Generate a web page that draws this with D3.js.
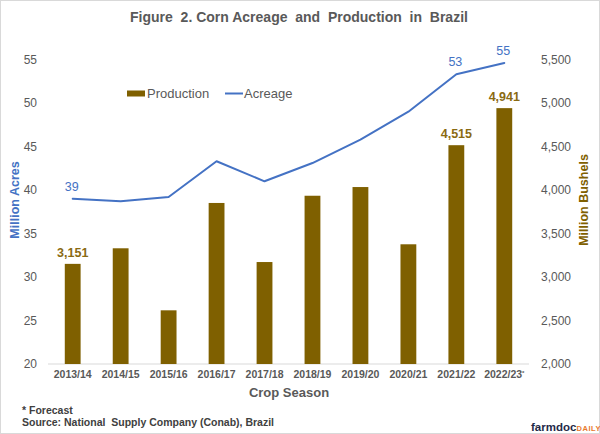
<!DOCTYPE html>
<html>
<head>
<meta charset="utf-8">
<script src="https://cdn.jsdelivr.net/npm/d3@7"></script>
<style>
  html, body { margin: 0; padding: 0; background: #fff; }
  svg { display: block; font-family: "Liberation Sans", Arial, sans-serif; }
</style>
</head>
<body>
<svg id="chart" width="600" height="434"></svg>
<script>
const seasons = ["2013/14","2014/15","2015/16","2016/17","2017/18","2018/19","2019/20","2020/21","2021/22","2022/23"];
const production = [3151, 3330, 2617, 3851, 3172, 3934, 4034, 3376, 4515, 4941];
const acreage = [39.0, 38.7, 39.2, 43.3, 41.0, 43.1, 45.8, 49.0, 53.3, 54.6];
const leftTicks = [20, 25, 30, 35, 40, 45, 50, 55];
const rightTicks = [2000, 2500, 3000, 3500, 4000, 4500, 5000, 5500];
const prodLabelIdx = [0, 8, 9];
const acreLabelIdx = [0, 8, 9];

const svg = d3.select("#chart");
const W = 600, H = 434;
const grayText = "#595959";
const barColor = "#7F6000";
const lineColor = "#4472C4";

svg.append("rect").attr("x", 0.5).attr("y", 0.5).attr("width", W - 1).attr("height", H - 1)
  .attr("fill", "#fff").attr("stroke", "#d9d9d9");

const x = d3.scaleBand().domain(seasons).range([48, 529]).paddingInner(0.67).paddingOuter(0.35);
const yL = d3.scaleLinear().domain([20, 55]).range([364, 59.5]);
const yR = d3.scaleLinear().domain([2000, 5500]).range([364, 59.5]);

// title
svg.append("text").attr("x", 299).attr("y", 22).attr("text-anchor", "middle")
  .style("white-space", "pre")
  .attr("font-size", 14).attr("font-weight", "bold").attr("fill", grayText)
  .text("Figure  2. Corn Acreage  and  Production  in  Brazil");

// baseline
svg.append("line").attr("x1", 48).attr("x2", 529).attr("y1", 364).attr("y2", 364)
  .attr("stroke", "#d9d9d9").attr("stroke-width", 1);

// bars
svg.append("g").selectAll("rect").data(production).join("rect")
  .attr("x", (d, i) => x(seasons[i]))
  .attr("width", x.bandwidth())
  .attr("y", d => yR(d))
  .attr("height", d => yR(2000) - yR(d))
  .attr("fill", barColor);

// line
const line = d3.line().x((d, i) => x(seasons[i]) + x.bandwidth() / 2).y(d => yL(d));
svg.append("path").datum(acreage).attr("d", line)
  .attr("fill", "none").attr("stroke", lineColor).attr("stroke-width", 2)
  .attr("stroke-linejoin", "round").attr("stroke-linecap", "round");

// left axis
const axL = d3.axisLeft(yL).tickValues(leftTicks).tickSize(0).tickPadding(0);
const gL = svg.append("g").attr("transform", "translate(37,0)").call(axL);
gL.select(".domain").remove();
gL.selectAll("text").attr("font-size", 12).attr("fill", grayText)
  .attr("font-family", "'Liberation Sans', Arial, sans-serif");

// right axis
const axR = d3.axisRight(yR).tickValues(rightTicks).tickSize(0).tickPadding(0)
  .tickFormat(d3.format(","));
const gR = svg.append("g").attr("transform", "translate(541,0)").call(axR);
gR.select(".domain").remove();
gR.selectAll("text").attr("font-size", 12).attr("fill", grayText)
  .attr("font-family", "'Liberation Sans', Arial, sans-serif");

// bottom axis
const axB = d3.axisBottom(x).tickSize(0).tickPadding(0);
const gB = svg.append("g").attr("transform", "translate(0,371)").call(axB);
gB.select(".domain").remove();
gB.selectAll("text").attr("font-size", 10.5).attr("font-weight", "bold").attr("fill", grayText)
  .attr("font-family", "'Liberation Sans', Arial, sans-serif").attr("dy", "0.71em");
gB.selectAll(".tick").filter(d => d === "2022/23").select("text")
  .append("tspan").attr("font-size", 6).attr("dy", "-0.5em").text("*");

// axis titles
svg.append("text").attr("transform", "translate(19,200) rotate(-90)").attr("text-anchor", "middle")
  .attr("font-size", 12.5).attr("font-weight", "bold").attr("fill", lineColor).text("Million Acres");
svg.append("text").attr("transform", "translate(588,200) rotate(-90)").attr("text-anchor", "middle")
  .attr("font-size", 12.5).attr("font-weight", "bold").attr("fill", barColor).text("Million Bushels");
svg.append("text").attr("x", 289).attr("y", 397).attr("text-anchor", "middle")
  .attr("font-size", 13).attr("font-weight", "bold").attr("fill", grayText).text("Crop Season");

// data labels
svg.append("g").selectAll("text").data(prodLabelIdx).join("text")
  .attr("x", i => x(seasons[i]) + x.bandwidth() / 2)
  .attr("y", i => yR(production[i]) - 7)
  .attr("text-anchor", "middle").attr("font-size", 12.5).attr("font-weight", "bold")
  .attr("fill", "#8A6A12").text(i => d3.format(",")(production[i]));
svg.append("g").selectAll("text").data(acreLabelIdx).join("text")
  .attr("x", i => x(seasons[i]) + x.bandwidth() / 2 - 1)
  .attr("y", i => yL(acreage[i]) - 8)
  .attr("text-anchor", "middle").attr("font-size", 12.5)
  .attr("fill", lineColor).text(i => d3.format(".0f")(acreage[i]));

// legend
const lg = svg.append("g");
lg.append("rect").attr("x", 127).attr("y", 90.5).attr("width", 18).attr("height", 6).attr("fill", barColor);
lg.append("text").attr("x", 147).attr("y", 97.5).attr("font-size", 13).attr("fill", grayText).text("Production");
lg.append("line").attr("x1", 225).attr("x2", 243).attr("y1", 93.5).attr("y2", 93.5)
  .attr("stroke", lineColor).attr("stroke-width", 2);
lg.append("text").attr("x", 244).attr("y", 97.5).attr("font-size", 13).attr("fill", grayText).text("Acreage");

// footer
svg.append("text").attr("x", 22).attr("y", 414).attr("font-size", 10.5).attr("font-weight", "bold")
  .attr("fill", "#404040").style("white-space", "pre").text("* Forecast");
svg.append("text").attr("x", 22).attr("y", 425.5).attr("font-size", 10.5).attr("font-weight", "bold")
  .attr("fill", "#404040").style("white-space", "pre").text("Source: National  Supply Company (Conab), Brazil");

// logo (single text with two styled parts)
const logo = svg.append("text").attr("x", 531).attr("y", 431).attr("font-weight", "bold");
logo.append("tspan").attr("font-size", 11.5).attr("fill", "#1F2A48").text("farmdoc");
logo.append("tspan").attr("font-size", 7.5).attr("fill", "#E87A2E").attr("letter-spacing", 0.6).text("DAILY");
</script>
</body>
</html>
